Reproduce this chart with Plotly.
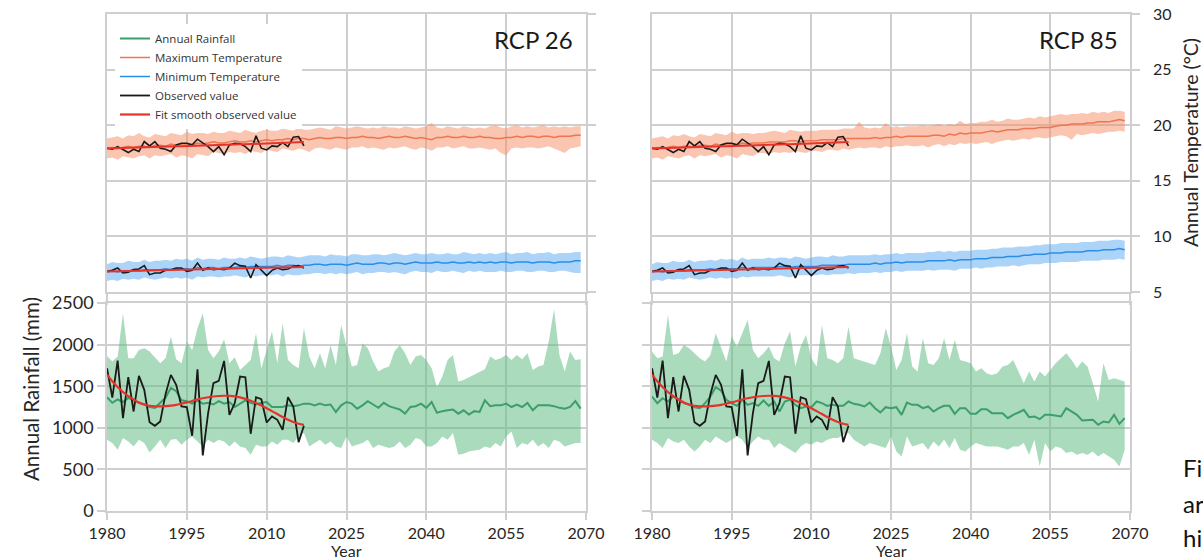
import plotly.graph_objects as go

# ---------------- data ----------------
YEARS = list(range(1980, 2070))
OBS_YEARS = list(range(1980, 2018))

# observed annual rainfall (mm) and smooth fit
OBS_RAIN = [1716, 1364, 1808, 1116, 1608, 1196, 1624, 1456, 1068, 1024,
            1076, 1404, 1636, 1516, 1256, 1248, 904, 1704, 668, 1176,
            1536, 1564, 1804, 1156, 1296, 1616, 1608, 928, 1368, 1344,
            1064, 1136, 1096, 976, 1368, 1256, 828, 1024]
FIT_RAIN = [1640, 1560, 1490, 1430, 1380, 1340, 1305, 1280, 1265, 1258,
            1257, 1260, 1266, 1276, 1290, 1305, 1322, 1340, 1355, 1367,
            1376, 1382, 1385, 1384, 1378, 1366, 1348, 1325, 1298, 1268,
            1235, 1200, 1165, 1130, 1098, 1070, 1048, 1035]

# observed max / min temperature and smooth fits
OBS_TMAX = [17.93, 17.84, 18.08, 17.78, 17.54, 17.84, 17.63, 18.53, 18.14, 18.53,
            17.93, 17.84, 17.63, 18.23, 18.38, 18.38, 18.23, 18.74, 18.38, 18.08,
            17.63, 18.08, 17.34, 18.23, 18.38, 18.32, 18.08, 17.63, 19.04, 17.93,
            17.78, 18.14, 18.08, 18.44, 18.08, 18.92, 18.98, 18.14]
FIT_TMAX = [17.90, 17.92, 17.93, 17.95, 17.96, 17.98, 17.99, 18.01, 18.02, 18.04,
            18.05, 18.07, 18.08, 18.10, 18.11, 18.13, 18.14, 18.16, 18.17, 18.19,
            18.20, 18.22, 18.23, 18.25, 18.26, 18.28, 18.29, 18.31, 18.32, 18.34,
            18.35, 18.37, 18.38, 18.40, 18.42, 18.44, 18.46, 18.48]
OBS_TMIN = [6.86, 6.95, 7.16, 6.71, 6.77, 7.01, 7.07, 7.37, 6.56, 6.71,
            6.71, 6.95, 7.01, 7.16, 7.16, 6.86, 6.95, 7.60, 6.95, 7.16,
            7.01, 7.07, 7.01, 7.16, 7.60, 7.37, 7.31, 6.26, 7.46, 7.01,
            6.47, 6.95, 7.16, 7.01, 7.07, 7.31, 7.37, 7.16]
FIT_TMIN = [6.85, 6.86, 6.87, 6.88, 6.89, 6.90, 6.91, 6.92, 6.93, 6.94,
            6.95, 6.96, 6.97, 6.98, 6.99, 7.00, 7.01, 7.02, 7.03, 7.04,
            7.05, 7.06, 7.07, 7.08, 7.09, 7.10, 7.11, 7.12, 7.13, 7.14,
            7.15, 7.16, 7.17, 7.18, 7.20, 7.21, 7.23, 7.25]

# ---- RCP 26 projections ----
RCP26_RAIN = [1368, 1300, 1340, 1310, 1360, 1330, 1300, 1280, 1250, 1240,
              1300, 1360, 1480, 1440, 1330, 1320, 1290, 1330, 1290, 1300,
              1280, 1320, 1290, 1310, 1250, 1290, 1330, 1300, 1280, 1300,
              1310, 1250, 1250, 1250, 1270, 1260, 1270, 1290, 1290, 1270,
              1290, 1270, 1280, 1190, 1270, 1310, 1290, 1230, 1270, 1320,
              1280, 1240, 1300, 1260, 1240, 1220, 1170, 1250, 1260, 1290,
              1240, 1310, 1180, 1200, 1210, 1220, 1170, 1210, 1160, 1200,
              1190, 1330, 1260, 1270, 1270, 1290, 1250, 1280, 1250, 1300,
              1210, 1270, 1270, 1270, 1260, 1240, 1230, 1250, 1320, 1230]
RCP26_RAIN_HI = [1864, 1796, 1856, 2376, 1836, 1836, 1936, 1956, 1916, 1848,
                 1776, 1836, 2096, 1824, 1776, 2036, 1936, 2196, 2376, 1936,
                 1836, 1916, 2064, 1776, 1848, 1696, 1756, 1816, 2136, 1716,
                 1936, 2156, 1776, 2256, 1816, 1756, 1716, 2196, 1856, 1716,
                 1896, 1716, 1996, 1756, 2236, 1996, 1736, 1756, 2016, 1956,
                 1796, 1676, 1716, 1736, 1916, 1996, 1896, 1756, 1856, 1876,
                 1816, 1716, 1488, 1616, 1816, 1876, 1556, 1576, 1608, 1636,
                 1676, 1704, 1856, 1816, 1836, 1876, 1816, 1876, 1824, 1896,
                 1696, 1736, 1756, 2036, 2424, 1876, 1676, 1916, 1816, 1824]
RCP26_RAIN_LO = [856, 816, 736, 876, 836, 776, 856, 816, 704, 776,
                 856, 756, 856, 864, 796, 856, 896, 836, 776, 856,
                 816, 856, 836, 776, 836, 776, 756, 676, 796, 776,
                 776, 836, 796, 856, 856, 816, 896, 936, 776, 816,
                 856, 796, 836, 776, 756, 896, 776, 796, 816, 856,
                 756, 796, 776, 756, 776, 836, 756, 796, 876, 856,
                 776, 776, 816, 896, 856, 936, 676, 688, 716, 728,
                 736, 776, 756, 816, 776, 896, 956, 756, 816, 796,
                 856, 776, 816, 756, 856, 836, 776, 796, 816, 816]

RCP26_TMAX = [17.9, 18.0, 17.9, 18.0, 18.1, 18.0, 18.1, 18.1, 18.0, 18.2,
              18.2, 18.1, 18.3, 18.2, 18.3, 18.3, 18.2, 18.4, 18.3, 18.4,
              18.5, 18.4, 18.4, 18.5, 18.6, 18.5, 18.5, 18.6, 18.5, 18.6,
              18.7, 18.6, 18.7, 18.7, 18.8, 18.7, 18.8, 18.8, 18.7, 18.8,
              18.9, 18.8, 18.8, 18.9, 18.9, 18.8, 18.9, 18.9, 19.0, 18.9,
              18.9, 18.8, 18.9, 19.0, 18.9, 18.9, 19.0, 18.9, 18.8, 18.9,
              18.8, 18.7, 18.9, 18.9, 19.0, 18.9, 18.9, 19.0, 18.9, 18.9,
              19.0, 18.9, 18.9, 18.8, 18.8, 18.9, 18.9, 19.0, 18.9, 19.0,
              19.0, 18.9, 19.0, 19.0, 18.9, 19.0, 19.0, 19.0, 19.1, 19.1]
RCP26_TMAX_HI = [18.8, 18.9, 19.0, 18.8, 19.1, 19.0, 19.3, 19.0, 18.9, 19.2,
                 19.1, 19.0, 19.3, 19.2, 19.1, 19.4, 19.2, 19.3, 19.3, 19.2,
                 19.4, 19.3, 19.3, 19.5, 19.4, 19.3, 19.6, 19.4, 19.3, 19.5,
                 19.6, 19.5, 19.5, 19.7, 19.6, 19.5, 19.8, 19.6, 19.6, 19.7,
                 19.8, 19.7, 19.6, 19.9, 19.8, 19.7, 19.8, 19.9, 19.8, 19.7,
                 19.8, 19.7, 19.9, 19.8, 19.8, 19.7, 19.9, 19.8, 19.7, 19.8,
                 19.9, 20.2, 19.8, 19.7, 19.9, 19.8, 19.7, 19.9, 19.8, 19.7,
                 19.8, 19.7, 19.9, 20.0, 19.8, 19.7, 19.9, 20.0, 19.8, 19.9,
                 19.8, 19.9, 20.0, 19.8, 19.9, 19.8, 19.9, 19.8, 19.9, 19.9]
RCP26_TMAX_LO = [17.0, 17.1, 16.9, 17.2, 17.1, 17.0, 17.2, 17.3, 17.0, 17.3,
                 17.2, 17.3, 17.4, 17.1, 17.3, 17.2, 17.0, 17.4, 17.3, 17.2,
                 17.6, 17.5, 17.4, 17.6, 17.5, 17.6, 17.4, 17.7, 17.6, 17.5,
                 17.8, 17.7, 17.6, 17.9, 17.8, 17.7, 17.9, 17.8, 17.6, 17.9,
                 18.0, 17.9, 17.8, 18.0, 17.9, 17.8, 18.0, 18.0, 18.1, 17.9,
                 18.0, 17.9, 17.8, 18.0, 17.9, 18.0, 18.1, 17.9, 17.8, 18.0,
                 17.9, 17.7, 18.0, 18.0, 18.1, 17.9, 18.0, 18.1, 17.9, 17.9,
                 18.0, 17.9, 17.8, 17.9, 17.5, 17.3, 17.9, 18.0, 17.9, 18.0,
                 18.0, 17.9, 18.0, 18.1, 17.9, 17.7, 17.5, 17.9, 18.0, 18.1]

RCP26_TMIN = [6.8, 6.9, 6.8, 6.9, 6.9, 7.0, 6.9, 7.0, 7.0, 7.0,
              7.0, 7.1, 7.0, 7.1, 7.1, 7.1, 7.0, 7.2, 7.1, 7.2,
              7.2, 7.1, 7.2, 7.2, 7.2, 7.3, 7.2, 7.3, 7.3, 7.3,
              7.3, 7.3, 7.4, 7.3, 7.4, 7.4, 7.3, 7.4, 7.4, 7.5,
              7.5, 7.4, 7.5, 7.5, 7.5, 7.4, 7.5, 7.6, 7.5, 7.5,
              7.5, 7.6, 7.6, 7.5, 7.6, 7.6, 7.5, 7.6, 7.7, 7.6,
              7.6, 7.6, 7.7, 7.6, 7.6, 7.7, 7.6, 7.6, 7.7, 7.6,
              7.7, 7.6, 7.7, 7.6, 7.7, 7.7, 7.6, 7.7, 7.7, 7.7,
              7.6, 7.7, 7.7, 7.7, 7.6, 7.7, 7.7, 7.7, 7.8, 7.8]
RCP26_TMIN_HI = [7.5, 7.7, 7.6, 7.6, 7.8, 7.7, 7.7, 7.9, 7.7, 7.8,
                 7.8, 7.9, 7.8, 8.0, 7.9, 8.0, 7.8, 8.1, 7.9, 8.0,
                 8.0, 7.9, 8.1, 8.0, 8.0, 8.1, 8.0, 8.2, 8.1, 8.0,
                 8.1, 8.2, 8.2, 8.1, 8.3, 8.2, 8.1, 8.2, 8.3, 8.3,
                 8.3, 8.2, 8.4, 8.3, 8.3, 8.2, 8.4, 8.4, 8.3, 8.3,
                 8.4, 8.4, 8.3, 8.4, 8.5, 8.4, 8.3, 8.4, 8.5, 8.4,
                 8.4, 8.5, 8.4, 8.4, 8.5, 8.4, 8.4, 8.6, 8.5, 8.4,
                 8.5, 8.4, 8.5, 8.4, 8.5, 8.6, 8.4, 8.5, 8.5, 8.6,
                 8.4, 8.5, 8.5, 8.6, 8.4, 8.5, 8.5, 8.5, 8.6, 8.6]
RCP26_TMIN_LO = [6.0, 6.1, 6.0, 6.2, 6.1, 6.2, 6.1, 6.3, 6.2, 6.1,
                 6.2, 6.3, 6.2, 6.3, 6.2, 6.3, 6.1, 6.4, 6.3, 6.4,
                 6.4, 6.3, 6.4, 6.4, 6.5, 6.4, 6.3, 6.5, 6.4, 6.5,
                 6.5, 6.5, 6.6, 6.4, 6.6, 6.5, 6.5, 6.6, 6.6, 6.7,
                 6.7, 6.6, 6.7, 6.6, 6.7, 6.6, 6.7, 6.8, 6.6, 6.7,
                 6.7, 6.8, 6.8, 6.7, 6.8, 6.7, 6.6, 6.8, 6.9, 6.8,
                 6.8, 6.7, 6.9, 6.8, 6.8, 6.9, 6.8, 6.7, 6.9, 6.8,
                 6.9, 6.8, 6.8, 6.8, 6.9, 6.8, 6.8, 6.9, 6.9, 6.8,
                 6.8, 6.9, 6.9, 6.8, 6.8, 6.9, 6.9, 6.8, 6.7, 6.7]

# ---- RCP 85 projections ----
RCP85_RAIN = [1376, 1296, 1356, 1316, 1376, 1336, 1296, 1276, 1248, 1236,
              1296, 1376, 1488, 1448, 1336, 1296, 1264, 1336, 1276, 1296,
              1264, 1328, 1264, 1316, 1196, 1316, 1336, 1276, 1236, 1256,
              1248, 1316, 1296, 1264, 1276, 1264, 1264, 1316, 1288, 1276,
              1256, 1304, 1236, 1184, 1248, 1236, 1248, 1156, 1304, 1276,
              1276, 1236, 1256, 1196, 1236, 1264, 1264, 1168, 1236, 1236,
              1168, 1168, 1224, 1224, 1176, 1176, 1176, 1116, 1156, 1184,
              1216, 1128, 1136, 1104, 1156, 1156, 1144, 1136, 1236, 1196,
              1156, 1088, 1088, 1096, 1036, 1076, 1064, 1156, 1048, 1116]
RCP85_RAIN_HI = [1916, 1836, 1856, 2356, 1876, 1896, 1996, 1956, 1896, 1836,
                 1796, 1876, 2136, 1976, 1796, 2096, 1976, 2136, 2296, 1936,
                 1836, 1896, 1976, 1836, 1796, 2016, 2156, 1736, 1976, 2116,
                 1836, 1736, 2236, 1836, 1816, 1776, 1836, 2216, 1836, 1816,
                 1796, 1776, 1756, 1896, 2196, 1976, 1696, 1816, 2136, 1736,
                 1676, 2076, 1776, 1756, 1836, 2076, 1816, 2056, 1816, 1796,
                 1776, 1676, 1716, 1656, 1636, 1656, 1736, 1756, 1816, 1676,
                 1536, 1676, 1556, 1676, 1616, 1696, 1776, 1836, 1896, 1816,
                 1716, 1796, 1736, 1536, 1316, 1776, 1576, 1596, 1576, 1556]
RCP85_RAIN_LO = [856, 816, 756, 876, 836, 816, 856, 776, 716, 776,
                 856, 816, 896, 856, 816, 856, 896, 856, 756, 836,
                 896, 856, 856, 756, 816, 776, 736, 696, 776, 816,
                 796, 836, 816, 856, 876, 876, 916, 936, 856, 816,
                 776, 816, 796, 776, 756, 896, 716, 656, 896, 776,
                 796, 816, 736, 836, 776, 856, 756, 876, 736, 716,
                 776, 816, 796, 776, 776, 776, 756, 736, 776, 776,
                 816, 676, 856, 536, 816, 716, 776, 756, 696, 716,
                 676, 696, 676, 716, 656, 696, 656, 616, 536, 736]

RCP85_TMAX = [17.9, 18.0, 17.9, 18.0, 18.1, 18.0, 18.1, 18.1, 18.0, 18.2,
              18.2, 18.1, 18.3, 18.2, 18.3, 18.3, 18.2, 18.4, 18.3, 18.4,
              18.4, 18.4, 18.5, 18.5, 18.5, 18.5, 18.6, 18.6, 18.5, 18.6,
              18.6, 18.6, 18.7, 18.7, 18.7, 18.7, 18.8, 18.8, 18.8, 18.8,
              18.8, 18.8, 18.9, 18.8, 18.9, 18.9, 19.0, 18.9, 19.0, 19.0,
              19.0, 19.0, 19.0, 19.1, 19.1, 19.0, 19.2, 19.1, 19.3, 19.2,
              19.3, 19.3, 19.3, 19.4, 19.5, 19.4, 19.5, 19.6, 19.6, 19.6,
              19.7, 19.7, 19.7, 19.8, 19.8, 19.8, 19.9, 20.0, 20.0, 20.1,
              20.1, 20.1, 20.2, 20.2, 20.3, 20.3, 20.3, 20.4, 20.5, 20.4]
RCP85_TMAX_HI = [18.8, 18.9, 19.0, 18.8, 19.1, 19.0, 19.2, 19.0, 18.9, 19.2,
                 19.1, 19.0, 19.3, 19.2, 19.1, 19.4, 19.2, 19.3, 19.3, 19.2,
                 19.3, 19.3, 19.4, 19.5, 19.4, 19.3, 19.6, 19.5, 19.4, 19.5,
                 19.5, 19.5, 19.6, 19.6, 19.6, 19.6, 19.7, 19.7, 19.7, 20.3,
                 19.8, 19.7, 19.8, 19.7, 20.2, 19.8, 19.9, 19.8, 19.9, 19.9,
                 19.9, 20.0, 19.9, 20.0, 20.1, 19.9, 20.1, 20.0, 20.4, 20.1,
                 20.2, 20.2, 20.3, 20.3, 20.5, 20.3, 20.4, 20.6, 20.5, 20.5,
                 20.6, 20.7, 20.6, 20.8, 20.7, 20.8, 20.9, 21.0, 20.9, 21.0,
                 21.0, 21.1, 21.0, 21.2, 21.1, 21.2, 21.1, 21.3, 21.3, 21.2]
RCP85_TMAX_LO = [17.0, 17.1, 16.9, 17.2, 17.1, 17.0, 17.2, 17.3, 17.0, 17.3,
                 17.2, 17.3, 17.4, 17.1, 17.3, 17.2, 17.0, 17.4, 17.3, 17.2,
                 17.5, 17.5, 17.4, 17.6, 17.5, 17.6, 17.5, 17.7, 17.6, 17.5,
                 17.7, 17.7, 17.6, 17.8, 17.8, 17.7, 17.9, 17.8, 17.9, 18.0,
                 17.9, 18.0, 18.0, 17.9, 18.1, 18.0, 18.1, 18.1, 18.2, 18.1,
                 18.1, 18.2, 18.0, 18.2, 18.3, 18.1, 18.3, 18.2, 18.4, 18.3,
                 18.4, 18.3, 18.4, 18.5, 18.3, 18.5, 18.6, 18.7, 18.6, 18.7,
                 18.8, 18.7, 18.9, 18.9, 18.8, 18.9, 19.0, 19.1, 19.0, 18.7,
                 19.2, 19.1, 19.2, 19.3, 19.2, 19.3, 19.4, 19.4, 19.5, 19.4]

RCP85_TMIN = [6.8, 6.9, 6.8, 6.9, 6.9, 7.0, 6.9, 7.0, 7.0, 7.0,
              7.0, 7.1, 7.0, 7.1, 7.1, 7.1, 7.1, 7.2, 7.1, 7.2,
              7.2, 7.2, 7.2, 7.2, 7.3, 7.3, 7.2, 7.3, 7.3, 7.3,
              7.3, 7.3, 7.4, 7.4, 7.4, 7.4, 7.4, 7.5, 7.5, 7.5,
              7.5, 7.5, 7.6, 7.5, 7.6, 7.6, 7.7, 7.6, 7.7, 7.7,
              7.7, 7.7, 7.8, 7.8, 7.8, 7.8, 7.9, 7.8, 7.9, 7.9,
              7.9, 8.0, 8.0, 8.0, 8.1, 8.1, 8.1, 8.2, 8.2, 8.2,
              8.3, 8.3, 8.4, 8.4, 8.4, 8.5, 8.5, 8.5, 8.6, 8.6,
              8.6, 8.6, 8.7, 8.7, 8.7, 8.8, 8.8, 8.8, 8.9, 8.8]
RCP85_TMIN_HI = [7.5, 7.7, 7.6, 7.6, 7.8, 7.7, 7.7, 7.9, 7.7, 7.8,
                 7.8, 7.9, 7.8, 8.0, 7.9, 8.0, 7.8, 8.1, 7.9, 8.0,
                 8.0, 8.0, 8.1, 8.0, 8.1, 8.1, 8.0, 8.2, 8.1, 8.0,
                 8.1, 8.2, 8.2, 8.1, 8.3, 8.2, 8.2, 8.3, 8.3, 8.3,
                 8.3, 8.3, 8.4, 8.3, 8.4, 8.4, 8.5, 8.4, 8.5, 8.5,
                 8.5, 8.5, 8.6, 8.6, 8.7, 8.6, 8.7, 8.6, 8.7, 8.7,
                 8.7, 8.8, 8.8, 8.8, 8.9, 8.9, 9.0, 9.0, 9.0, 9.1,
                 9.1, 9.1, 9.2, 9.2, 9.3, 9.3, 9.3, 9.4, 9.4, 9.4,
                 9.4, 9.5, 9.5, 9.5, 9.6, 9.6, 9.6, 9.7, 9.7, 9.6]
RCP85_TMIN_LO = [6.0, 6.1, 6.0, 6.2, 6.1, 6.2, 6.1, 6.3, 6.2, 6.1,
                 6.2, 6.3, 6.2, 6.3, 6.2, 6.3, 6.2, 6.4, 6.3, 6.4,
                 6.4, 6.4, 6.4, 6.4, 6.5, 6.4, 6.3, 6.5, 6.5, 6.5,
                 6.5, 6.5, 6.6, 6.5, 6.6, 6.6, 6.6, 6.7, 6.6, 6.7,
                 6.7, 6.7, 6.8, 6.7, 6.8, 6.8, 6.9, 6.8, 6.9, 6.9,
                 6.9, 6.9, 7.0, 6.9, 7.0, 7.0, 7.0, 6.9, 7.1, 7.1,
                 7.1, 7.2, 7.1, 7.2, 7.2, 7.3, 7.3, 7.3, 7.4, 7.3,
                 7.4, 7.5, 7.5, 7.5, 7.6, 7.6, 7.6, 7.7, 7.7, 7.7,
                 7.7, 7.8, 7.8, 7.8, 7.8, 7.9, 7.9, 7.9, 8.0, 7.9]

X_TICKS = [1980, 1995, 2010, 2025, 2040, 2055, 2070]
RAIN_TICKS = [0, 500, 1000, 1500, 2000, 2500]
TEMP_TICKS = [5, 10, 15, 20, 25, 30]
PANEL_LABELS = ["RCP 26", "RCP 85"]
CAPTION_FRAGMENTS = ["Fi", "ar", "hi"]

# ---------------- styles ----------------
GREEN = "#3c9e68"
GREEN_BAND = "rgba(100,190,135,0.55)"
ORANGE = "#ef7550"
ORANGE_BAND = "rgba(245,140,100,0.5)"
BLUE = "#2b8de6"
BLUE_BAND = "rgba(70,160,240,0.45)"
BLACK = "#1a1a1a"
RED = "#e5322b"
GRID = "#cfcfcf"
TXT = "#262626"
FONT = "Lato"

W, H = 1203, 560
X_LEFT = [107 / W, 586 / W]
X_RIGHT = [652 / W, 1130 / W]
Y_TOP = [(H - 292) / H, (H - 14) / H]
Y_BOT = [(H - 511) / H, (H - 303) / H]

fig = go.Figure()


def band(x, lo, hi, color, xa, ya):
    fig.add_trace(go.Scatter(x=list(x) + list(x)[::-1], y=list(hi) + list(lo)[::-1],
                             fill="toself", fillcolor=color, line=dict(width=0),
                             mode="lines", showlegend=False, hoverinfo="skip",
                             xaxis=xa, yaxis=ya))


def line(x, y, color, width, xa, ya, name=None, rank=None, shape="linear"):
    fig.add_trace(go.Scatter(x=x, y=y, mode="lines", line=dict(color=color, width=width, shape=shape),
                             name=name, showlegend=name is not None,
                             legendrank=rank if rank else 1000,
                             xaxis=xa, yaxis=ya))


panels = [
    ("x", "y", "x2", "y2", RCP26_RAIN, RCP26_RAIN_LO, RCP26_RAIN_HI,
     RCP26_TMAX, RCP26_TMAX_LO, RCP26_TMAX_HI, RCP26_TMIN, RCP26_TMIN_LO, RCP26_TMIN_HI, True),
    ("x3", "y3", "x4", "y4", RCP85_RAIN, RCP85_RAIN_LO, RCP85_RAIN_HI,
     RCP85_TMAX, RCP85_TMAX_LO, RCP85_TMAX_HI, RCP85_TMIN, RCP85_TMIN_LO, RCP85_TMIN_HI, False),
]

for (xb, yb, xt, yt, rain, rlo, rhi, tmax, tmlo, tmhi, tmin, tnlo, tnhi, leg) in panels:
    # rainfall panel
    band(YEARS, rlo, rhi, GREEN_BAND, xb, yb)
    line(YEARS, rain, GREEN, 2, xb, yb, "Annual Rainfall" if leg else None, 1)
    line(OBS_YEARS, OBS_RAIN, BLACK, 1.8, xb, yb, "Observed value" if leg else None, 4)
    line(OBS_YEARS, FIT_RAIN, RED, 2.2, xb, yb, "Fit smooth observed value" if leg else None, 5, "spline")
    # temperature panel
    band(YEARS, tmlo, tmhi, ORANGE_BAND, xt, yt)
    band(YEARS, tnlo, tnhi, BLUE_BAND, xt, yt)
    line(YEARS, tmax, ORANGE, 1.5, xt, yt, "Maximum Temperature" if leg else None, 2)
    line(YEARS, tmin, BLUE, 1.5, xt, yt, "Minimum Temperature" if leg else None, 3)
    line(OBS_YEARS, OBS_TMAX, BLACK, 1.6, xt, yt)
    line(OBS_YEARS, FIT_TMAX, RED, 2, xt, yt)
    line(OBS_YEARS, OBS_TMIN, BLACK, 1.6, xt, yt)
    line(OBS_YEARS, FIT_TMIN, RED, 2, xt, yt)

common_x = dict(range=[1980, 2070], tickvals=X_TICKS, showgrid=True, gridcolor=GRID, gridwidth=1.5,
                zeroline=False, showline=True, linecolor=GRID, linewidth=1.5, mirror=True,
                ticks="outside", tickcolor=GRID, tickwidth=1.5, automargin=False)
tickfont_x = dict(family=FONT, size=16, color=TXT)
common_y = dict(showgrid=True, gridcolor=GRID, gridwidth=1.5, zeroline=False, showline=True,
                linecolor=GRID, linewidth=1.5, mirror=True, ticks="outside", ticklen=8,
                tickcolor=GRID, tickwidth=1.5, automargin=False)

fig.update_layout(
    template="none",
    width=W, height=H, margin=dict(l=0, r=0, t=0, b=0, pad=0, autoexpand=False),
    paper_bgcolor="white", plot_bgcolor="white",
    showlegend=True,
    legend=dict(x=115 / W, y=1 - 24 / H, xanchor="left", yanchor="top",
                bgcolor="white", borderwidth=0, traceorder="normal",
                font=dict(family="Open Sans", size=11.5, color="#333333"),
                itemwidth=30, tracegroupgap=0),
    xaxis=dict(domain=X_LEFT, anchor="y", ticklen=7, tickfont=tickfont_x, **common_x),
    xaxis2=dict(domain=X_LEFT, anchor="y2", ticklen=11, showticklabels=False, **common_x),
    xaxis3=dict(domain=X_RIGHT, anchor="y3", ticklen=7, tickfont=tickfont_x, **common_x),
    xaxis4=dict(domain=X_RIGHT, anchor="y4", ticklen=11, showticklabels=False, **common_x),
    yaxis=dict(domain=Y_BOT, anchor="x", range=[0, 2500], tickvals=RAIN_TICKS,
               tickfont=dict(family=FONT, size=18, color=TXT), **common_y),
    yaxis3=dict(domain=Y_BOT, anchor="x3", range=[0, 2500], tickvals=RAIN_TICKS,
                showticklabels=False, **common_y),
    yaxis2=dict(domain=Y_TOP, anchor="x2", side="right", range=[5, 30], tickvals=TEMP_TICKS,
                showticklabels=False, **common_y),
    yaxis4=dict(domain=Y_TOP, anchor="x4", side="right", range=[5, 30], tickvals=TEMP_TICKS,
                ticklabelstandoff=10,
                tickfont=dict(family=FONT, size=16, color=TXT), **common_y),
)

ann = [
    dict(text=PANEL_LABELS[0], x=575 / W, y=1 - 40 / H, xanchor="right", yanchor="middle",
         font=dict(family=FONT, size=24, color="#1a1a1a")),
    dict(text=PANEL_LABELS[1], x=1120 / W, y=1 - 40 / H, xanchor="right", yanchor="middle",
         font=dict(family=FONT, size=24, color="#1a1a1a")),
    dict(text="Annual Rainfall (mm)", x=31 / W, y=1 - 389 / H, textangle=-90,
         xanchor="center", yanchor="middle", font=dict(family=FONT, size=20.5, color=TXT)),
    dict(text="Annual Temperature (°C)", x=1190 / W, y=1 - 143 / H, textangle=-90,
         xanchor="center", yanchor="middle", font=dict(family=FONT, size=19.5, color=TXT)),
    dict(text="Year", x=346 / W, y=1 - 550 / H, xanchor="center", yanchor="middle",
         font=dict(family=FONT, size=16, color=TXT)),
    dict(text="Year", x=891 / W, y=1 - 550 / H, xanchor="center", yanchor="middle",
         font=dict(family=FONT, size=16, color=TXT)),
]
for txt, yc in zip(CAPTION_FRAGMENTS, [467, 503, 537]):
    ann.append(dict(text=txt, x=1181 / W, y=1 - yc / H, xanchor="left", yanchor="middle",
                    font=dict(family=FONT, size=24, color="#111111")))
for a in ann:
    a.update(xref="paper", yref="paper", showarrow=False)
fig.update_layout(annotations=ann)

fig.write_html("out.html")
